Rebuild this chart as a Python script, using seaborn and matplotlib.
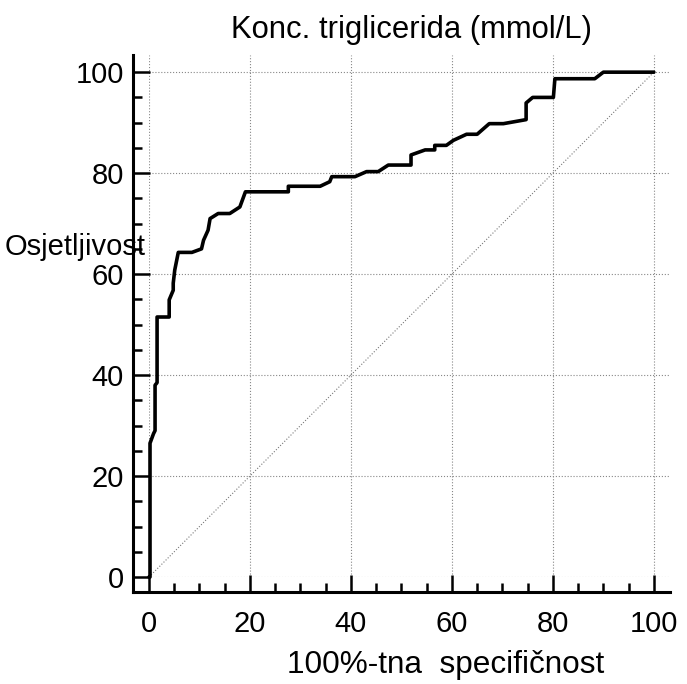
import matplotlib
matplotlib.use('Agg')
import matplotlib.pyplot as plt
import seaborn as sns
from matplotlib.ticker import MultipleLocator

# ROC curve vertices (100-specificity, sensitivity)
fpr = [0, 0.2, 0.2, 0.9, 1.2, 1.2, 1.6, 1.6, 4.0, 4.0, 4.8, 4.8, 5.1, 5.8,
       8.5, 10.4, 10.8, 11.7, 12.1, 13.7, 16.0, 18.0, 19.1, 27.6, 27.6,
       33.9, 35.8, 36.2, 40.8, 43.1, 45.4, 47.4, 51.9, 51.9, 54.7, 56.6,
       56.6, 58.9, 60.3, 62.9, 65.0, 67.4, 70.2, 74.7, 74.7, 76.0, 80.1,
       80.4, 88.3, 90.0, 100]
tpr = [0, 0, 26.5, 28.4, 29.0, 38.0, 38.5, 51.5, 51.5, 54.9, 56.8, 58.2,
       60.8, 64.3, 64.3, 65.0, 66.7, 68.7, 71.0, 72.0, 72.0, 73.3, 76.3,
       76.3, 77.4, 77.4, 78.3, 79.3, 79.3, 80.3, 80.3, 81.6, 81.6, 83.6,
       84.6, 84.6, 85.5, 85.5, 86.5, 87.7, 87.7, 89.8, 89.8, 90.6, 93.9,
       95.0, 95.0, 98.7, 98.7, 100, 100]
ref_line = [0, 100]

sns.set_style('white')
plt.rcParams['font.family'] = ['Liberation Sans', 'DejaVu Sans']
plt.rcParams['text.color'] = 'black'
plt.rcParams['xtick.color'] = 'black'
plt.rcParams['ytick.color'] = 'black'

fig = plt.figure(figsize=(6.87, 6.84), dpi=100)
ax = fig.add_axes([149 / 687, 107 / 684, 521 / 687, 522 / 684])

sns.lineplot(x=ref_line, y=ref_line, ax=ax, color='#777777', linestyle=':',
             linewidth=0.8)
sns.lineplot(x=fpr, y=tpr, ax=ax, sort=False, estimator=None, color='black',
             linewidth=2.6, clip_on=False)

ax.set_xlim(0, 103.2)
ax.set_ylim(0, 103.4)
ax.xaxis.set_major_locator(MultipleLocator(20))
ax.yaxis.set_major_locator(MultipleLocator(20))
ax.xaxis.set_minor_locator(MultipleLocator(5))
ax.yaxis.set_minor_locator(MultipleLocator(5))
ax.grid(True, which='major', linestyle=':', color='#888888', linewidth=0.8)

for s in ['top', 'right']:
    ax.spines[s].set_visible(False)
ax.spines['left'].set_position(('outward', 11.5))
ax.spines['bottom'].set_position(('outward', 10.8))
ax.spines['left'].set_bounds(-3.0, 103.4)
ax.spines['bottom'].set_bounds(-3.2, 103.2)
for s in ['left', 'bottom']:
    ax.spines[s].set_linewidth(2.2)
    ax.spines[s].set_color('black')

ax.tick_params(which='both', direction='in', width=1.8, color='black',
               labelsize=21, labelcolor='black', bottom=True, left=True)
ax.tick_params(which='major', length=12)
ax.tick_params(which='minor', length=6.5)
ax.tick_params(axis='y', pad=6.5)
ax.tick_params(axis='x', pad=13)

fig.text(411 / 687, 1 - 30 / 684, 'Konc. triglicerida (mmol/L)',
         ha='center', va='center', fontsize=22.3)
fig.text(446 / 687, 1 - 673 / 684, '100%-tna  specifičnost',
         ha='center', va='baseline', fontsize=22.7)
fig.text(5 / 687, 1 - 247 / 684, 'Osjetljivost',
         ha='left', va='center', fontsize=21)

fig.savefig('out.png', dpi=100)
